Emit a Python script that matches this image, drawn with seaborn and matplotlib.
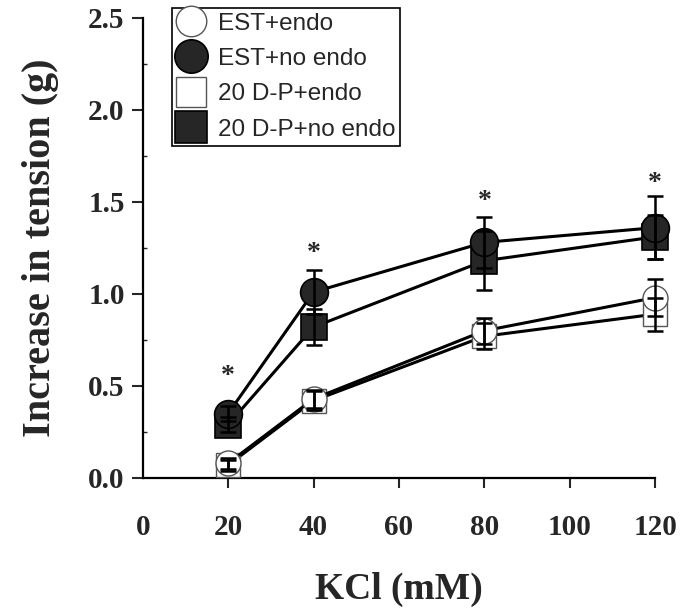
import numpy as np
import pandas as pd
import matplotlib
matplotlib.use('Agg')
import matplotlib.pyplot as plt
from matplotlib.lines import Line2D
import seaborn as sns

# Values
kcl = [20, 40, 80, 120]
groups = ['EST+endo', 'EST+no endo', '20 D-P+endo', '20 D-P+no endo']
est_endo = [0.08, 0.43, 0.80, 0.98]
est_endo_err = [0.03, 0.05, 0.07, 0.10]
est_noendo = [0.35, 1.01, 1.28, 1.36]
est_noendo_err = [0.04, 0.12, 0.14, 0.17]
dp_endo = [0.07, 0.42, 0.77, 0.89]
dp_endo_err = [0.03, 0.05, 0.07, 0.09]
dp_noendo = [0.29, 0.82, 1.18, 1.31]
dp_noendo_err = [0.04, 0.10, 0.16, 0.12]
star_x = [20, 40, 80, 120]
star_y = [0.55, 1.22, 1.50, 1.60]

means = [est_endo, est_noendo, dp_endo, dp_noendo]
errs = [est_endo_err, est_noendo_err, dp_endo_err, dp_noendo_err]

df = pd.DataFrame({
    'KCl': kcl * 4,
    'tension': sum(means, []),
    'sem': sum(errs, []),
    'group': np.repeat(groups, len(kcl)),
})

sns.set_style('ticks')
plt.rcParams['font.family'] = ['Liberation Serif', 'DejaVu Serif']

styles = {
    'EST+endo': dict(marker='o', mfc='white', mec='#555555', ms=18, mew=1.0),
    'EST+no endo': dict(marker='o', mfc='#262626', mec='black', ms=20, mew=1.2),
    '20 D-P+endo': dict(marker='s', mfc='white', mec='#555555', ms=17, mew=1.0),
    '20 D-P+no endo': dict(marker='s', mfc='#262626', mec='black', ms=19, mew=1.2),
}
draw_order = ['20 D-P+endo', 'EST+endo', '20 D-P+no endo', 'EST+no endo']

fig = plt.figure(figsize=(6.86, 6.14), dpi=100)
ax = fig.add_axes([0.208, 0.2215, 0.747, 0.7495])

for g in draw_order:
    sub = df[df['group'] == g]
    st = styles[g]
    sns.lineplot(data=sub, x='KCl', y='tension', ax=ax, color='black', lw=2.2,
                 marker=st['marker'], markerfacecolor=st['mfc'],
                 markeredgecolor=st['mec'], markersize=st['ms'],
                 markeredgewidth=st['mew'], errorbar=None, legend=False,
                 zorder=3, clip_on=False)
    eb = ax.errorbar(sub['KCl'], sub['tension'], yerr=sub['sem'], fmt='none',
                     ecolor='black', elinewidth=1.8, capsize=5.5, capthick=1.8, zorder=4)
    for art in eb.lines[1] + eb.lines[2]:
        art.set_clip_on(False)

for xs, ys in zip(star_x, star_y):
    ax.text(xs, ys, '*', ha='center', va='center', fontsize=20, fontweight='bold')

ax.set_xlim(0, 120)
ax.set_ylim(0, 2.5)
ax.set_xticks([0, 20, 40, 60, 80, 100, 120])
ax.set_yticks([0.0, 0.5, 1.0, 1.5, 2.0, 2.5])
ax.set_yticks(np.arange(0.25, 2.5, 0.5), minor=True)
ax.set_yticklabels(['0.0', '0.5', '1.0', '1.5', '2.0', '2.5'])
ax.tick_params(axis='x', length=7, width=1.5, pad=19, labelsize=21)
ax.tick_params(axis='y', which='major', length=8, width=1.5, pad=5, labelsize=21)
ax.tick_params(axis='y', which='minor', length=3, width=1.0, direction='in')
ax.xaxis.get_major_ticks()[0].tick1line.set_visible(False)
for lab in ax.get_xticklabels() + ax.get_yticklabels():
    lab.set_fontweight('bold')

ax.set_xlabel('KCl (mM)', fontsize=27, fontweight='bold', labelpad=22)
ax.set_ylabel('Increase in tension (g)', fontsize=29, fontweight='bold', labelpad=21)

sns.despine(ax=ax)
for sp in ['left', 'bottom']:
    ax.spines[sp].set_linewidth(1.6)
    ax.spines[sp].set_color('black')

handles = []
for g in groups:
    st = styles[g]
    handles.append(Line2D([], [], ls='none', marker=st['marker'], markerfacecolor=st['mfc'],
                          markeredgecolor=st['mec'], markersize=st['ms'] + 4,
                          markeredgewidth=st['mew']))
leg = ax.legend(handles, groups, loc='upper left', bbox_to_anchor=(0.057, 1.022),
                borderaxespad=0, frameon=True, fancybox=False, framealpha=1,
                edgecolor='black', handlelength=1.2, handletextpad=0.5,
                labelspacing=0.55, borderpad=0.2,
                prop={'family': 'Liberation Sans', 'size': 17.5})
leg.get_frame().set_linewidth(1.2)

fig.savefig('out.png', dpi=100)
